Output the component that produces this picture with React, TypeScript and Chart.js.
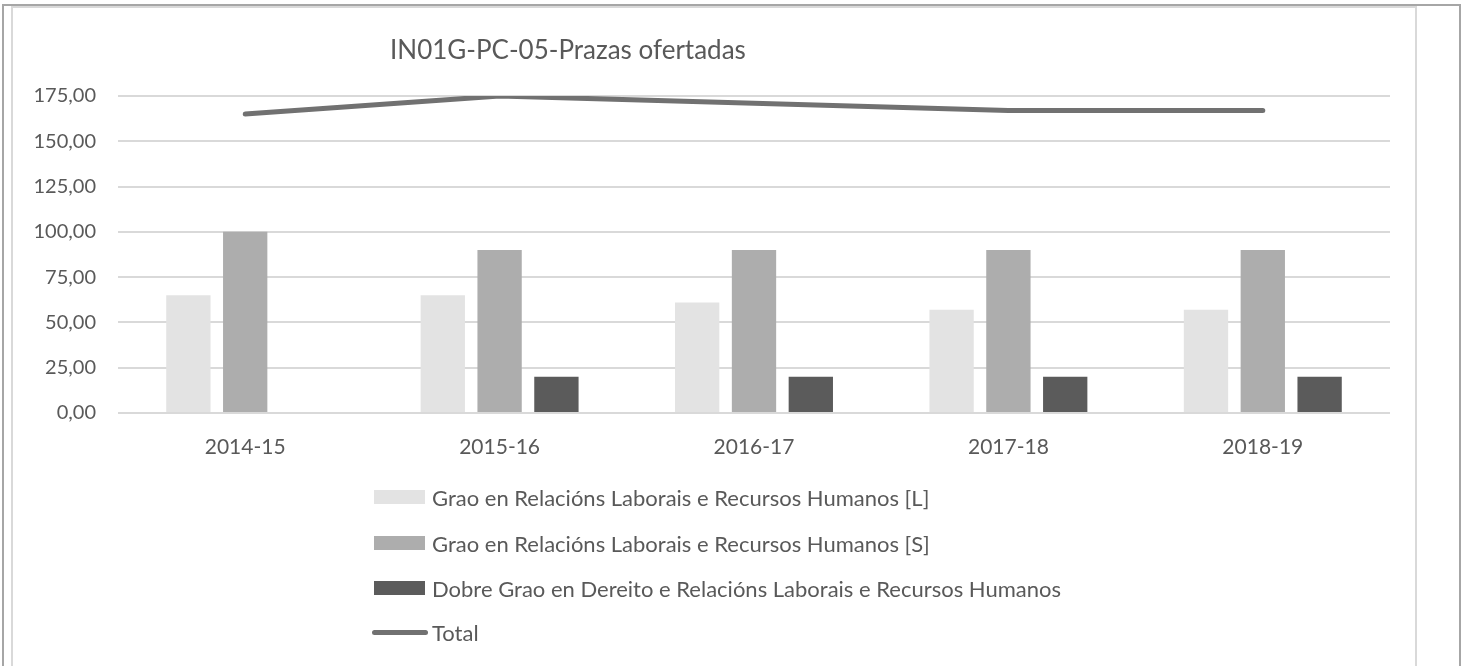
import React, { useEffect, useRef } from "react";
import { Chart, registerables } from "chart.js";

Chart.register(...registerables);

// ---- data ----
const chartTitle = "IN01G-PC-05-Prazas ofertadas";
const categories = ["2014-15", "2015-16", "2016-17", "2017-18", "2018-19"];
const graoL = [65, 65, 61, 57, 57];
const graoS = [100, 90, 90, 90, 90];
const dobreGrao = [0, 20, 20, 20, 20];
const total = [165, 175, 171, 167, 167];
const yTickValues = [0, 25, 50, 75, 100, 125, 150, 175];
const seriesNames = [
  "Grao en Relacións Laborais e Recursos Humanos [L]",
  "Grao en Relacións Laborais e Recursos Humanos [S]",
  "Dobre Grao en Dereito e Relacións Laborais e Recursos Humanos",
  "Total",
];
const seriesColors = ["#e3e3e3", "#adadad", "#5b5b5b", "#717171"];
const seriesKinds = ["bar", "bar", "bar", "line"];

const FONT = "Lato, 'Open Sans', sans-serif";
const TEXT = "#595959";

export default function App() {
  const canvasRef = useRef<HTMLCanvasElement | null>(null);

  useEffect(() => {
    if (!canvasRef.current) return;
    const chart = new Chart(canvasRef.current, {
      type: "bar",
      data: {
        labels: categories,
        datasets: [
          {
            type: "line",
            label: seriesNames[3],
            data: total,
            borderColor: seriesColors[3],
            backgroundColor: seriesColors[3],
            borderWidth: 5,
            pointRadius: 0,
            pointHoverRadius: 0,
            borderCapStyle: "round",
            borderJoinStyle: "round",
            tension: 0,
            order: 0,
          } as any,
          {
            label: seriesNames[0],
            data: graoL,
            backgroundColor: seriesColors[0],
            borderWidth: 0,
            order: 1,
          },
          {
            label: seriesNames[1],
            data: graoS,
            backgroundColor: seriesColors[1],
            borderWidth: 0,
            order: 1,
          },
          {
            label: seriesNames[2],
            data: dobreGrao,
            backgroundColor: seriesColors[2],
            borderWidth: 0,
            order: 1,
          },
        ],
      },
      options: {
        responsive: false,
        animation: false,
        devicePixelRatio: 1,
        layout: { padding: { left: 0, right: 74, top: 96, bottom: 193 } },
        datasets: {
          bar: { categoryPercentage: 0.67, barPercentage: 0.78 },
        },
        plugins: {
          legend: { display: false },
          title: { display: false },
          tooltip: { enabled: false },
        },
        scales: {
          x: {
            grid: { display: false },
            border: { display: false },
            ticks: {
              color: TEXT,
              font: { family: FONT, size: 21 },
              padding: 14,
              maxRotation: 0,
              autoSkip: false,
            },
            afterFit: (scale: any) => {
              scale.height = 60;
            },
          },
          y: {
            min: 0,
            max: 175,
            border: { display: false },
            grid: { color: "#d9d9d9", lineWidth: 2, drawTicks: false },
            afterBuildTicks: (scale: any) => {
              scale.ticks = yTickValues.map((v) => ({ value: v }));
            },
            ticks: {
              color: TEXT,
              font: { family: FONT, size: 20 },
              padding: 22,
              callback: (v: any) => Number(v).toFixed(2).replace(".", ","),
            },
            afterFit: (scale: any) => {
              scale.width = 118;
            },
          },
        },
      },
    });
    return () => chart.destroy();
  }, []);

  const rowCenters = [497, 543, 588, 632];

  return (
    <div
      style={{
        position: "absolute",
        left: 0,
        top: 0,
        width: 1464,
        height: 666,
        overflow: "hidden",
        background: "#ffffff",
        fontFamily: FONT,
      }}
    >
      <div
        style={{
          position: "absolute",
          left: 2,
          top: 4,
          width: 1459,
          height: 800,
          border: "2px solid #a6a6a6",
          boxSizing: "border-box",
        }}
      />
      <div
        style={{
          position: "absolute",
          left: 11,
          top: 6,
          width: 1406,
          height: 800,
          border: "2px solid #d9d9d9",
          boxSizing: "border-box",
        }}
      />
      <canvas
        ref={canvasRef}
        width={1464}
        height={666}
        style={{ position: "absolute", left: 0, top: 0, width: 1464, height: 666 }}
      />
      <div
        style={{
          position: "absolute",
          left: 390,
          top: 34,
          height: 30,
          lineHeight: "30px",
          fontSize: 26,
          color: TEXT,
          whiteSpace: "nowrap",
        }}
      >
        {chartTitle}
      </div>
      {seriesNames.map((name, i) => (
        <div
          key={name}
          style={{
            position: "absolute",
            left: 372,
            top: rowCenters[i] - 15,
            height: 30,
            display: "flex",
            alignItems: "center",
            whiteSpace: "nowrap",
            color: TEXT,
            fontSize: 22,
          }}
        >
          {seriesKinds[i] === "bar" ? (
            <span
              style={{
                display: "inline-block",
                marginLeft: 2,
                width: 51,
                height: 14,
                background: seriesColors[i],
              }}
            />
          ) : (
            <span
              style={{
                display: "inline-block",
                width: 56,
                height: 5,
                borderRadius: 3,
                background: seriesColors[i],
              }}
            />
          )}
          <span style={{ marginLeft: seriesKinds[i] === "bar" ? 7 : 4 }}>{name}</span>
        </div>
      ))}
    </div>
  );
}
